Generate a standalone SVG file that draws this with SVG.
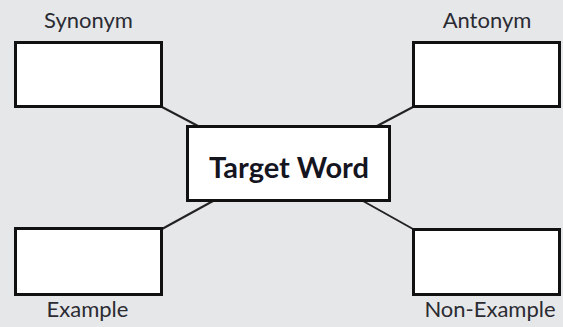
<svg xmlns="http://www.w3.org/2000/svg" width="563" height="327" viewBox="0 0 563 327">
<style>
.bg{fill:#e6e7e8}
.box{fill:#ffffff;stroke:#111;stroke-width:3}
.lbl{font-family:Lato,"Open Sans",sans-serif;font-size:22px;fill:#2b2b33;text-anchor:middle}
.tw{font-family:Lato,"Open Sans",sans-serif;font-size:29px;font-weight:bold;fill:#15151f;text-anchor:middle}
.con line{stroke:#222;stroke-width:2}
</style>
<rect class="bg" x="0" y="0" width="563" height="327"/>
<g id="connectors" class="con">
<line x1="162" y1="107" x2="198" y2="126"/>
<line x1="413" y1="107" x2="377" y2="126"/>
<line x1="162" y1="229" x2="213" y2="201"/>
<line x1="413" y1="229" x2="363" y2="201"/>
</g>
<g id="synonym">
<rect class="box" x="15.5" y="42.5" width="146" height="64"/>
<text class="lbl" x="88.5" y="28">Synonym</text>
</g>
<g id="antonym">
<rect class="box" x="413.5" y="42.5" width="146" height="64"/>
<text class="lbl" x="487" y="28">Antonym</text>
</g>
<g id="example">
<rect class="box" x="15.5" y="228.5" width="146" height="66"/>
<text class="lbl" x="87.5" y="317">Example</text>
</g>
<g id="non-example">
<rect class="box" x="413.5" y="229.5" width="146" height="65"/>
<text class="lbl" x="490" y="317">Non-Example</text>
</g>
<g id="target">
<rect class="box" x="187.5" y="126.5" width="202" height="74"/>
<text class="tw" x="289" y="178">Target Word</text>
</g>
</svg>
